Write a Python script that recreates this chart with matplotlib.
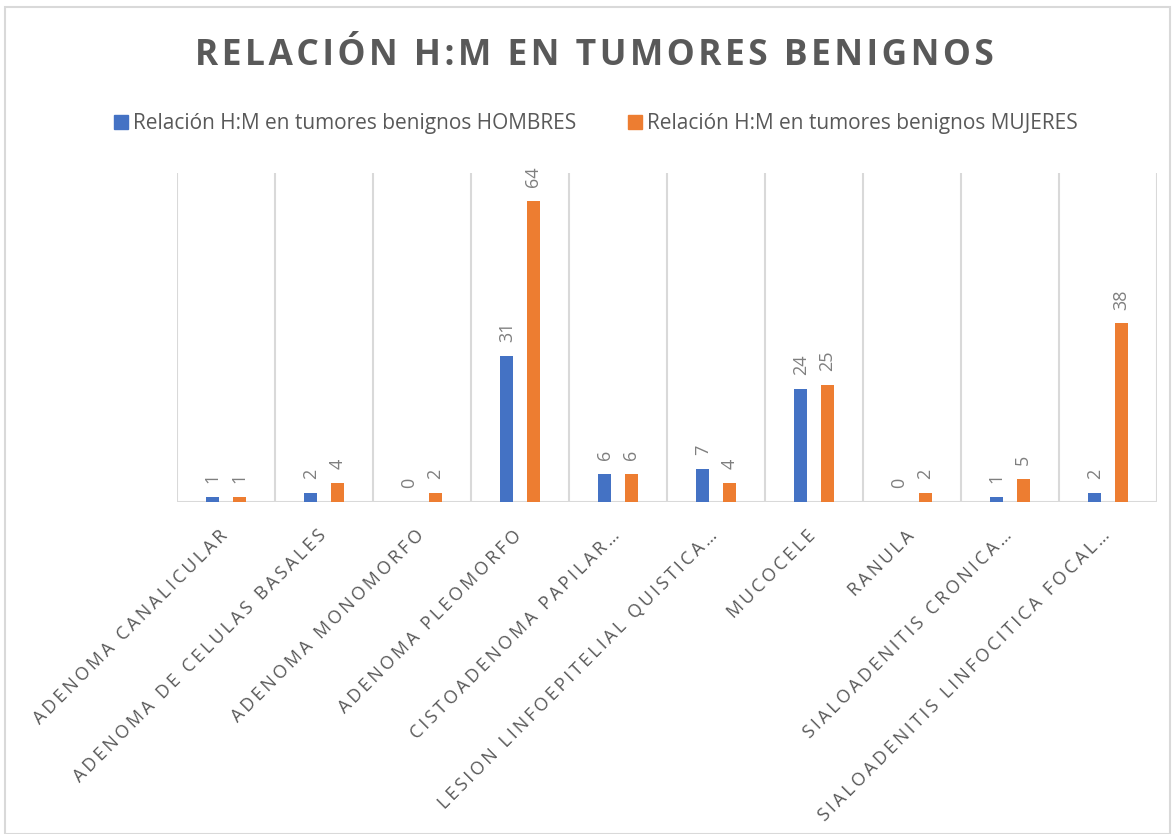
import matplotlib
matplotlib.use("Agg")
import matplotlib.pyplot as plt
from matplotlib.patches import Rectangle
import matplotlib.transforms as mtransforms
import numpy as np

categories = ["ADENOMA CANALICULAR", "ADENOMA DE CELULAS BASALES", "ADENOMA MONOMORFO",
              "ADENOMA PLEOMORFO", "CISTOADENOMA PAPILAR…", "LESION LINFOEPITELIAL QUISTICA…",
              "MUCOCELE", "RANULA", "SIALOADENITIS CRONICA…", "SIALOADENITIS LINFOCITICA FOCAL…"]
hombres = [1, 2, 0, 31, 6, 7, 24, 0, 1, 2]
mujeres = [1, 4, 2, 64, 6, 4, 25, 2, 5, 38]
series_names = ["Relación H:M en tumores benignos HOMBRES", "Relación H:M en tumores benignos MUJERES"]
title = "RELACIÓN H:M EN TUMORES BENIGNOS"

BLUE = "#4472C4"
ORANGE = "#ED7D31"
GRID = "#D9D9D9"
TXT = "#595959"
LBL = "#7F7F7F"

FONT = ["Open Sans", "DejaVu Sans"]
plt.rcParams['font.family'] = FONT


def spaced(s, sp="\u200a"):
    return sp.join(s)


fig = plt.figure(figsize=(11.74, 8.34), dpi=100)
# outer chart border
fig.patches.append(Rectangle((5 / 1174, 0), 1165 / 1174, 1 - 7 / 834, transform=fig.transFigure,
                             fill=False, edgecolor=GRID, linewidth=1.5))

ax = fig.add_axes([177 / 1174, 1 - 502 / 834, 980 / 1174, 329 / 834])
n = len(categories)
x = np.arange(n)
w = 0.135
off = 0.135
b1 = ax.bar(x - off, hombres, width=w, color=BLUE, zorder=3)
b2 = ax.bar(x + off, mujeres, width=w, color=ORANGE, zorder=3)
ax.set_xlim(-0.5, n - 0.5)
ax.set_ylim(0, 70)

# category separators
for k in range(n + 1):
    ax.axvline(k - 0.5, color=GRID, linewidth=1.5, zorder=1)
ax.axhline(0, color=GRID, linewidth=1.5, zorder=2)
for s in ax.spines.values():
    s.set_visible(False)
ax.set_xticks([])
ax.set_yticks([])

for bars, vals in ((b1, hombres), (b2, mujeres)):
    for r, v in zip(bars, vals):
        ax.annotate(str(v), (r.get_x() + r.get_width() / 2, v), xytext=(0, 10),
                    textcoords="offset points", rotation=90, ha="center", va="bottom",
                    fontsize=13, color=LBL)

# category labels
for i, c in enumerate(categories):
    tr = ax.transData + mtransforms.ScaledTranslation(-1 / 100, -31 / 100, fig.dpi_scale_trans)
    ax.text(i, 0, spaced(c, "\u2009"), transform=tr, rotation=45, rotation_mode="anchor",
            ha="right", va="center", fontsize=13, color=TXT)

fig.text(0.506, 1 - 56 / 834, spaced(title, "\u200a"), ha="center", va="center",
         fontsize=25.5, fontweight="bold", color=TXT)

# legend
fig.patches.append(Rectangle((114 / 1174, 1 - 129 / 834), 14 / 1174, 14 / 834,
                             transform=fig.transFigure, color=BLUE))
fig.text(133 / 1174, 1 - 123 / 834, series_names[0], ha="left", va="center", fontsize=15, color=TXT)
fig.patches.append(Rectangle((628 / 1174, 1 - 129 / 834), 14 / 1174, 14 / 834,
                             transform=fig.transFigure, color=ORANGE))
fig.text(647 / 1174, 1 - 123 / 834, series_names[1], ha="left", va="center", fontsize=15, color=TXT)

fig.savefig("out.png", dpi=100)
